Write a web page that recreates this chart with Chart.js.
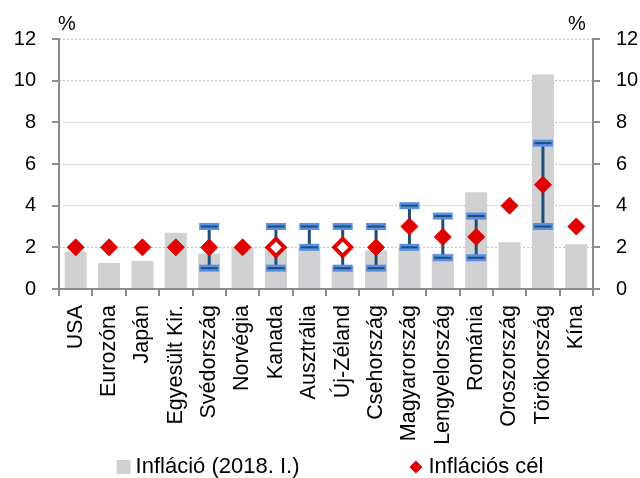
<!DOCTYPE html>
<html>
<head>
<meta charset="utf-8">
<script src="https://cdn.jsdelivr.net/npm/chart.js@4.4.1/dist/chart.umd.min.js"></script>
<style>
  html, body { margin: 0; padding: 0; background: #fff; }
  #wrap { width: 640px; height: 478px; }
</style>
</head>
<body>
<div id="wrap"><canvas id="inflChart" width="640" height="478"></canvas></div>
<script>
// Data
const categories = ['USA', 'Eurozóna', 'Japán', 'Egyesült Kir.', 'Svédország', 'Norvégia', 'Kanada',
    'Ausztrália', 'Új-Zéland', 'Csehország', 'Magyarország', 'Lengyelország', 'Románia',
    'Oroszország', 'Törökország', 'Kína'];
const inflation = [1.8, 1.25, 1.35, 2.7, 1.7, 2.0, 2.0, 2.0, 1.1, 1.85, 2.0, 1.7, 4.65, 2.25, 10.3, 2.15];
const target = [2, 2, 2, 2, 2, 2, 2, null, 2, 2, 3, 2.5, 2.5, 4, 5, 3];
const hollowTarget = [0, 0, 0, 0, 0, 0, 1, 0, 1, 0, 0, 0, 0, 0, 0, 0];
const bandLow = [null, null, null, null, 1, null, 1, 2, 1, 1, 2, 1.5, 1.5, null, 3, null];
const bandHigh = [null, null, null, null, 3, null, 3, 3, 3, 3, 4, 3.5, 3.5, null, 7, null];
const yTicks = [0, 2, 4, 6, 8, 10, 12];

const FONT = "'Liberation Sans', Arial, sans-serif";
const red = '#e00000';
const axisGray = '#8c8c8c';

// Tolerance band whiskers, drawn just before the target markers
const errorBars = {
    id: 'errorBars',
    beforeDatasetDraw(chart, args) {
        if (args.index !== 1) return;
        const ctx = chart.ctx;
        const x = chart.scales.x;
        const y = chart.scales.y;
        ctx.save();
        bandLow.forEach(function(lo, i) {
            const hi = bandHigh[i];
            if (lo === null || hi === null) return;
            const px = x.getPixelForValue(i);
            const y1 = y.getPixelForValue(lo);
            const y2 = y.getPixelForValue(hi);
            ctx.strokeStyle = '#1f4e79';
            ctx.lineWidth = 3;
            ctx.beginPath();
            ctx.moveTo(px, y1);
            ctx.lineTo(px, y2);
            ctx.stroke();
            [y1, y2].forEach(function(py) {
                ctx.fillStyle = '#5a8fe6';
                ctx.fillRect(px - 10, py - 3.5, 20, 7);
                ctx.fillStyle = '#1f4e79';
                ctx.fillRect(px - 8.5, py - 1, 17, 2);
            });
        });
        ctx.restore();
    }
};

// "%" above both axes
const percentLabels = {
    id: 'percentLabels',
    afterDraw(chart) {
        const ctx = chart.ctx;
        ctx.save();
        ctx.font = '20px ' + FONT;
        ctx.fillStyle = '#000';
        ctx.textAlign = 'center';
        ctx.textBaseline = 'middle';
        ctx.fillText('%', chart.chartArea.left + 8, 24);
        ctx.fillText('%', chart.chartArea.right - 16, 24);
        ctx.restore();
    }
};

// Legend with a square for the bars and a small diamond for the targets
const legendBox = {
    id: 'legendBox',
    afterDraw(chart) {
        const ctx = chart.ctx;
        const sets = chart.data.datasets;
        ctx.save();
        ctx.font = '22px ' + FONT;
        ctx.textBaseline = 'middle';
        const w0 = ctx.measureText(sets[0].label).width;
        const w1 = ctx.measureText(sets[1].label).width;
        const total = 14 + 5 + w0 + 110 + 13 + 6 + w1;
        let x = 330 - total / 2;
        const yc = 467;
        ctx.fillStyle = sets[0].backgroundColor;
        ctx.fillRect(x, yc - 7, 14, 14);
        x += 19;
        ctx.fillStyle = '#000';
        ctx.fillText(sets[0].label, x, yc);
        x += w0 + 110;
        ctx.fillStyle = red;
        ctx.beginPath();
        ctx.moveTo(x, yc);
        ctx.lineTo(x + 6.5, yc - 6.5);
        ctx.lineTo(x + 13, yc);
        ctx.lineTo(x + 6.5, yc + 6.5);
        ctx.closePath();
        ctx.fill();
        x += 19;
        ctx.fillStyle = '#000';
        ctx.fillText(sets[1].label, x, yc);
        ctx.restore();
    }
};

const valueAxis = function(position, width) {
    return {
        position: position,
        min: 0,
        max: 12,
        afterBuildTicks: function(scale) {
            scale.ticks = yTicks.map(function(v) { return { value: v }; });
        },
        ticks: { color: '#000', font: { family: FONT, size: 20 }, padding: 16 },
        grid: { drawOnChartArea: false, color: axisGray, lineWidth: 2, tickLength: 7 },
        border: { color: axisGray, width: 2 },
        afterFit: function(scale) { scale.width = width; }
    };
};

const ctx = document.getElementById('inflChart').getContext('2d');
const inflChart = new Chart(ctx, {
    type: 'bar',
    data: {
        labels: categories,
        datasets: [{
            type: 'bar',
            label: 'Infláció (2018. I.)',
            data: inflation,
            backgroundColor: '#d1d0d2',
            barPercentage: 0.66,
            categoryPercentage: 1,
            order: 2,
            yAxisID: 'y'
        }, {
            type: 'line',
            label: 'Inflációs cél',
            data: target,
            showLine: false,
            pointStyle: 'rectRot',
            pointRadius: 8.5,
            pointHoverRadius: 8.5,
            pointBackgroundColor: hollowTarget.map(function(h) { return h ? '#fff' : red; }),
            pointBorderColor: red,
            pointBorderWidth: hollowTarget.map(function(h) { return h ? 4 : 1; }),
            order: 1,
            yAxisID: 'y'
        }]
    },
    options: {
        responsive: false,
        animation: false,
        layout: { padding: { top: 39, bottom: 30, left: 0, right: 0 } },
        plugins: {
            legend: { display: false },
            tooltip: { enabled: false }
        },
        scales: {
            x: {
                grid: { offset: true, drawOnChartArea: false, color: axisGray, lineWidth: 2, tickLength: 7 },
                border: { color: axisGray, width: 2 },
                ticks: {
                    color: '#000',
                    font: { family: FONT, size: 21.5 },
                    maxRotation: 90,
                    minRotation: 90,
                    padding: 9,
                    autoSkip: false
                },
                afterFit: function(scale) { scale.height = 159; }
            },
            y: valueAxis('left', 59),
            y2: valueAxis('right', 47),
            yg: {
                position: 'left',
                min: 0,
                max: 12,
                afterBuildTicks: function(scale) {
                    scale.ticks = yTicks.map(function(v) { return { value: v }; });
                },
                ticks: { display: false },
                grid: {
                    color: function(c) { return c.tick && c.tick.value === 0 ? 'rgba(0,0,0,0)' : '#c4c4c4'; },
                    lineWidth: 1,
                    drawTicks: false,
                    tickLength: 0
                },
                border: { display: false, dash: [2, 2] },
                afterFit: function(scale) { scale.width = 0; }
            }
        }
    },
    plugins: [errorBars, percentLabels, legendBox]
});
</script>
</body>
</html>
